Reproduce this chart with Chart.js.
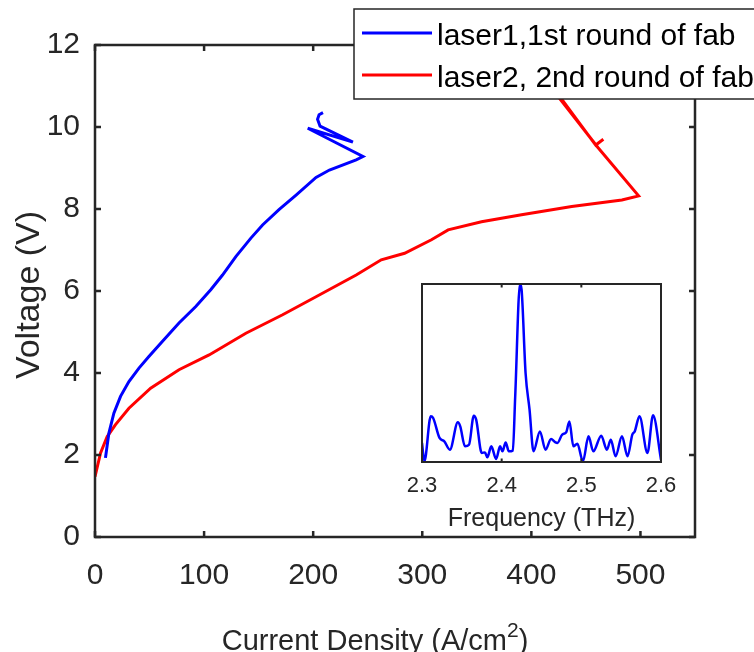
<!DOCTYPE html>
<html>
<head>
<meta charset="utf-8">
<script src="https://cdn.jsdelivr.net/npm/chart.js@4/dist/chart.umd.min.js"></script>
<style>
  html, body { margin: 0; padding: 0; background: #fff; }
  #wrap { position: relative; width: 754px; height: 652px; }
  #mainChart { position: absolute; left: 0; top: 0; }
  #insetChart { position: absolute; left: 380px; top: 270px; }
</style>
</head>
<body>
<div id="wrap">
  <canvas id="mainChart" width="754" height="652"></canvas>
  <canvas id="insetChart" width="320" height="270"></canvas>
</div>
<script>
// ---- data ----
const laser1J = [9.6, 12.7, 17.3, 23.4, 31.1, 40.3, 49.4, 61.7, 77.0, 92.4, 106.1, 116.9, 129.1, 142.9, 153.6, 168.9, 184.3, 202.6, 214.9, 239.4, 245.6, 195.0, 236.4, 206.3, 204.0, 205.4, 209.0];
const laser1V = [1.93, 2.53, 3.02, 3.43, 3.79, 4.12, 4.40, 4.77, 5.22, 5.62, 6.03, 6.39, 6.84, 7.29, 7.61, 7.99, 8.34, 8.77, 8.95, 9.20, 9.28, 9.97, 9.63, 10.02, 10.19, 10.30, 10.35];

const laser2J = [0, 5.1, 11.2, 18.8, 31.1, 51, 77, 104.6, 138.3, 172, 202.6, 239.4, 262.4, 283.8, 308.4, 323.7, 354.3, 391, 437, 483, 498.3, 461, 395, 398, 459, 466];
const laser2V = [1.47, 2.05, 2.45, 2.74, 3.14, 3.63, 4.08, 4.44, 4.97, 5.42, 5.86, 6.39, 6.76, 6.92, 7.25, 7.49, 7.69, 7.86, 8.06, 8.22, 8.32, 9.50, 11.75, 11.75, 9.56, 9.70];

const seriesLabels = ['laser1,1st round of fab', 'laser2, 2nd round of fab'];

const xTicks = [0, 100, 200, 300, 400, 500];
const yTicks = [0, 2, 4, 6, 8, 10, 12];

// inset spectrum
const freqTHz = [2.300, 2.303, 2.311, 2.314, 2.322, 2.328, 2.335, 2.345, 2.348, 2.354, 2.359, 2.365, 2.368, 2.375, 2.379, 2.382, 2.387, 2.393, 2.398, 2.401, 2.405, 2.409, 2.414, 2.417, 2.423, 2.425, 2.430, 2.435, 2.440, 2.448, 2.455, 2.462, 2.467, 2.470, 2.476, 2.481, 2.485, 2.490, 2.495, 2.502, 2.509, 2.515, 2.525, 2.532, 2.537, 2.543, 2.551, 2.558, 2.564, 2.567, 2.573, 2.583, 2.590, 2.600];
const spectrum = [0.107, 0.004, 0.257, 0.247, 0.135, 0.116, 0.069, 0.223, 0.200, 0.088, 0.097, 0.260, 0.238, 0.051, 0.054, 0.026, 0.088, 0.017, 0.088, 0.060, 0.110, 0.060, 0.064, 0.369, 1.000, 0.968, 0.500, 0.294, 0.060, 0.172, 0.069, 0.129, 0.112, 0.107, 0.154, 0.167, 0.228, 0.088, 0.103, 0.004, 0.144, 0.060, 0.148, 0.069, 0.125, 0.032, 0.144, 0.032, 0.154, 0.172, 0.257, 0.051, 0.262, 0.013];
const freqTicks = [2.3, 2.4, 2.5, 2.6];

const AXIS = '#262626';
const FONT = '"Liberation Sans", Arial, sans-serif';
Chart.defaults.font.family = FONT;
Chart.defaults.color = AXIS;

function toPoints(xs, ys) {
  return xs.map((x, i) => ({ x: x, y: ys[i] }));
}

// box round the plot area with inward ticks, matlab style
function boxPlugin(tickLen, lw, sides) {
  return {
    id: 'box',
    afterDatasetsDraw(chart) {
      const { ctx, chartArea: a, scales } = chart;
      ctx.save();
      ctx.strokeStyle = AXIS;
      ctx.lineWidth = lw;
      ctx.strokeRect(a.left, a.top, a.right - a.left, a.bottom - a.top);
      ctx.beginPath();
      if (sides.x) {
        scales.x.ticks.forEach(t => {
          const px = scales.x.getPixelForValue(t.value);
          ctx.moveTo(px, a.bottom); ctx.lineTo(px, a.bottom - tickLen);
          ctx.moveTo(px, a.top); ctx.lineTo(px, a.top + tickLen);
        });
      }
      if (sides.y) {
        scales.y.ticks.forEach(t => {
          const py = scales.y.getPixelForValue(t.value);
          ctx.moveTo(a.left, py); ctx.lineTo(a.left + tickLen, py);
          ctx.moveTo(a.right, py); ctx.lineTo(a.right - tickLen, py);
        });
      }
      ctx.stroke();
      ctx.restore();
    }
  };
}

const titlesAndLegend = {
  id: 'titlesAndLegend',
  afterDraw(chart) {
    const ctx = chart.ctx;
    ctx.save();
    // x title with superscript
    const main = 'Current Density (A/cm';
    ctx.font = '29px ' + FONT;
    const w1 = ctx.measureText(main).width;
    const w3 = ctx.measureText(')').width;
    ctx.font = '21px ' + FONT;
    const w2 = ctx.measureText('2').width;
    let x0 = 375 - (w1 + w2 + w3) / 2;
    const base = 650;
    ctx.fillStyle = AXIS;
    ctx.textBaseline = 'alphabetic';
    ctx.textAlign = 'left';
    ctx.font = '29px ' + FONT;
    ctx.fillText(main, x0, base);
    ctx.font = '21px ' + FONT;
    ctx.fillText('2', x0 + w1, base - 13);
    ctx.font = '29px ' + FONT;
    ctx.fillText(')', x0 + w1 + w2, base);

    // y title
    ctx.save();
    ctx.translate(39, 295);
    ctx.rotate(-Math.PI / 2);
    ctx.textAlign = 'center';
    ctx.font = '34px ' + FONT;
    ctx.fillText('Voltage (V)', 0, 0);
    ctx.restore();

    // legend box
    ctx.fillStyle = '#fff';
    ctx.fillRect(354, 9, 410, 90);
    ctx.strokeStyle = AXIS;
    ctx.lineWidth = 1.5;
    ctx.strokeRect(354, 9, 410, 90);
    chart.data.datasets.forEach((ds, i) => {
      const y = 33 + i * 42;
      ctx.strokeStyle = ds.borderColor;
      ctx.lineWidth = 3;
      ctx.beginPath();
      ctx.moveTo(362, y);
      ctx.lineTo(432, y);
      ctx.stroke();
      ctx.fillStyle = '#000';
      ctx.font = '30px ' + FONT;
      ctx.textAlign = 'left';
      ctx.fillText(ds.label, 437, y + 12);
    });
    ctx.restore();
  }
};

new Chart(document.getElementById('mainChart').getContext('2d'), {
  type: 'line',
  data: {
    datasets: [
      {
        label: seriesLabels[0],
        data: toPoints(laser1J, laser1V),
        borderColor: '#0000ff',
        borderWidth: 3,
        pointRadius: 0,
        tension: 0
      },
      {
        label: seriesLabels[1],
        data: toPoints(laser2J, laser2V),
        borderColor: '#ff0000',
        borderWidth: 3,
        pointRadius: 0,
        tension: 0
      }
    ]
  },
  options: {
    responsive: false,
    animation: false,
    parsing: false,
    layout: { padding: { left: 0, top: 45, right: 59, bottom: 0 } },
    plugins: { legend: { display: false }, tooltip: { enabled: false } },
    scales: {
      x: {
        type: 'linear',
        min: 0,
        max: 550,
        afterBuildTicks: s => { s.ticks = xTicks.map(v => ({ value: v })); },
        afterFit: s => { s.height = 115; },
        grid: { display: false, drawTicks: false },
        border: { display: false },
        ticks: { font: { size: 30 }, color: AXIS, padding: 21, maxRotation: 0 }
      },
      y: {
        type: 'linear',
        min: 0,
        max: 12,
        afterBuildTicks: s => { s.ticks = yTicks.map(v => ({ value: v })); },
        afterFit: s => { s.width = 95; },
        grid: { display: false, drawTicks: false },
        border: { display: false },
        ticks: { font: { size: 30 }, color: AXIS, padding: 15 }
      }
    }
  },
  plugins: [boxPlugin(6, 2.5, { x: true, y: true }), titlesAndLegend]
});

// inset: emission spectrum
new Chart(document.getElementById('insetChart').getContext('2d'), {
  type: 'line',
  data: {
    datasets: [{
      data: toPoints(freqTHz, spectrum),
      borderColor: '#0000ff',
      borderWidth: 2.5,
      pointRadius: 0,
      cubicInterpolationMode: 'monotone'
    }]
  },
  options: {
    responsive: false,
    animation: false,
    parsing: false,
    layout: { padding: { left: 42, top: 14, right: 39, bottom: 0 } },
    plugins: { legend: { display: false }, tooltip: { enabled: false } },
    scales: {
      x: {
        type: 'linear',
        min: 2.3,
        max: 2.6,
        afterBuildTicks: s => { s.ticks = freqTicks.map(v => ({ value: v })); },
        afterFit: s => { s.height = 78; },
        grid: { display: false, drawTicks: false },
        border: { display: false },
        ticks: { font: { size: 22 }, color: AXIS, padding: 11, maxRotation: 0, callback: v => v.toFixed(1) },
        title: { display: true, text: 'Frequency (THz)', font: { size: 25 }, color: AXIS, padding: { top: 0, bottom: 6 } }
      },
      y: { display: false, min: 0, max: 1 }
    }
  },
  plugins: [
    {
      id: 'insetBg',
      beforeDatasetsDraw(chart) {
        const { ctx, chartArea: a } = chart;
        ctx.save();
        ctx.fillStyle = '#fff';
        ctx.fillRect(a.left, a.top, a.right - a.left, a.bottom - a.top);
        ctx.restore();
      }
    },
    boxPlugin(3.5, 2, { x: true, y: false })
  ]
});
</script>
</body>
</html>
